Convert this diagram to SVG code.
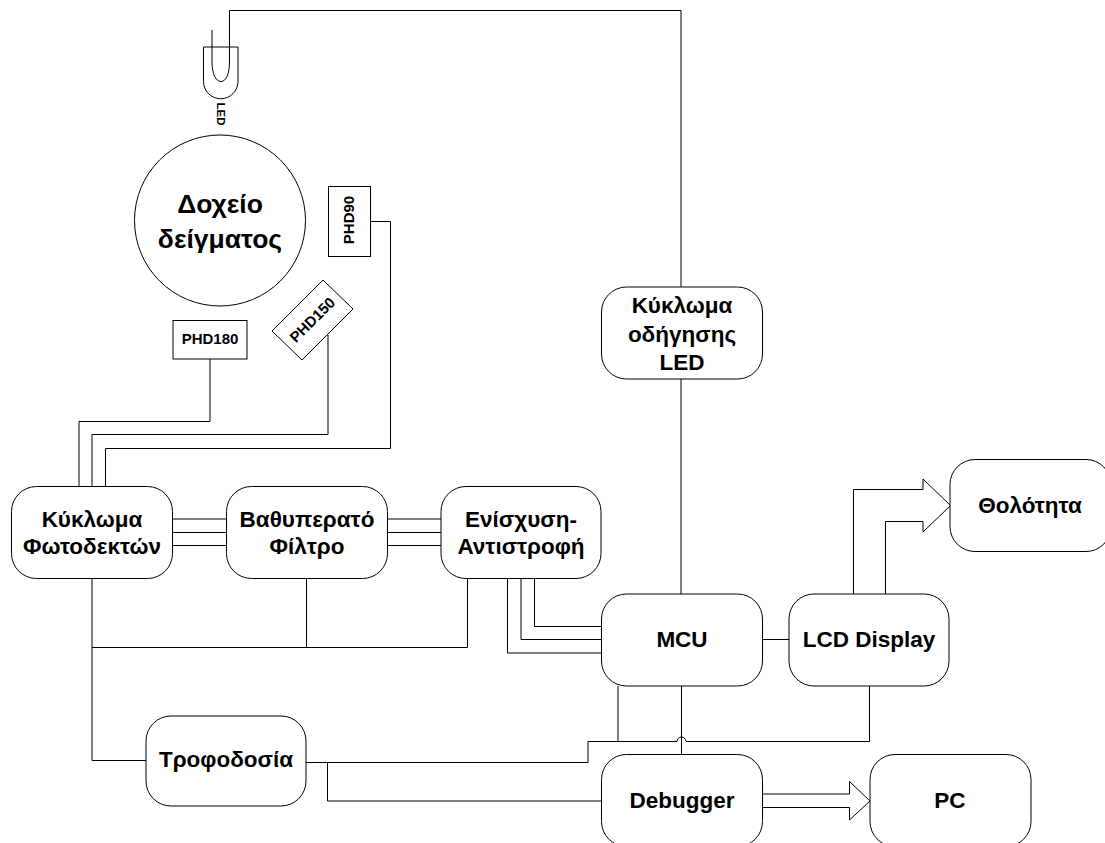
<svg xmlns="http://www.w3.org/2000/svg" width="1105" height="843" viewBox="0 0 1105 843">
<style>
.s{fill:#fff;stroke:#000;stroke-width:1}
.w{fill:none;stroke:#000;stroke-width:1}
text{font-family:"Liberation Sans",Arial,sans-serif;font-weight:700;fill:#000;text-anchor:middle}
.n{font-size:22.500px}
.b{font-size:26.500px}
.p{font-size:15px}
.l{font-size:11.500px}
</style>
<rect width="1105" height="843" fill="#fff"/>
<g id="connectors">
<path class="w" d="M229.500 47V10.500H681V287"/>
<path class="w" d="M681 379V594"/>
<path class="w" d="M371 221.500H390.500V448.500H105.500V486"/>
<path class="w" d="M210 359V421.500H79V486"/>
<path class="w" d="M328 335V434.500H92V486"/>
<path class="w" d="M172 519H226M172 532.500H226M172 545.500H226M387 519H441M387 532.500H441M387 545.500H441"/>
<path class="w" d="M92 578V760.500H146M92 647.500H467.500V578M306.500 578V647.500"/>
<path class="w" d="M534.500 578V626.500H601M521 578V639.500H601M507.500 578V653H601"/>
<path class="w" d="M762 639.500H789"/>
<path class="w" d="M618 686V741.500M681.500 686V754"/>
<path class="w" d="M306 762.500H588V741.500H677A4.500 4.500 0 0 1 686 741.500H869.500V686"/>
<path class="w" d="M327.500 762.500V801H601"/>
<path class="w" d="M762 794H849.500V781.500L870 801L849.500 820V807.500H762"/>
<path class="w" d="M853.500 594V489.500H923V479L950.500 505.500L923 532V521.500H885.500V594"/>
</g>
<g id="led">
<path class="w" d="M203.500 47H238V81.500A17.250 17.250 0 0 1 203.500 81.500Z"/>
<path class="w" d="M212 30V62C212 74 216 81.500 221 81.500C226 81.500 229.500 74 229.500 62V47"/>
<text class="l" transform="translate(216.800 114) rotate(90)">LED</text>
</g>
<g id="sample"><circle class="s" cx="220" cy="220.500" r="85.500"/><text class="b" x="220" y="213">Δοχείο</text><text class="b" x="220" y="248">δείγματος</text></g>
<g id="phd90"><rect class="s" x="328.500" y="186.500" width="42" height="70"/><text class="p" transform="translate(354 220) rotate(-90)">PHD90</text></g>
<g id="phd180"><rect class="s" x="173" y="320.500" width="74" height="38.500"/><text class="p" x="210" y="344">PHD180</text></g>
<g id="phd150"><path class="s" d="M323 280L353 309L302 360L272 331Z"/><text class="p" transform="translate(312.500 320) rotate(-45)" y="5">PHD150</text></g>
<g id="detectors"><rect class="s" x="11.500" y="486.500" width="161" height="92" rx="25"/><text class="n" x="92" y="527">Κύκλωμα</text><text class="n" x="92" y="554">Φωτοδεκτών</text></g>
<g id="filter"><rect class="s" x="226.500" y="486.500" width="161" height="92" rx="25"/><text class="n" x="307" y="527">Βαθυπερατό</text><text class="n" x="307" y="554">Φίλτρο</text></g>
<g id="amp"><rect class="s" x="441" y="486.500" width="160" height="92" rx="25"/><text class="n" x="521" y="527">Ενίσχυση-</text><text class="n" x="521" y="554">Αντιστροφή</text></g>
<g id="driver"><rect class="s" x="601.500" y="287" width="161" height="92" rx="25"/><text class="n" x="682" y="313">Κύκλωμα</text><text class="n" x="682" y="342">οδήγησης</text><text class="n" x="682" y="370">LED</text></g>
<g id="mcu"><rect class="s" x="601.500" y="594" width="161" height="92" rx="25"/><text class="n" x="682" y="647">MCU</text></g>
<g id="lcd"><rect class="s" x="789" y="594" width="160" height="92" rx="25"/><text class="n" x="869" y="647">LCD Display</text></g>
<g id="turbidity"><rect class="s" x="950" y="459.500" width="161" height="92" rx="25"/><text class="n" x="1030" y="513">Θολότητα</text></g>
<g id="power"><rect class="s" x="146" y="716" width="160" height="90" rx="25"/><text class="n" x="226" y="767">Τροφοδοσία</text></g>
<g id="debugger"><rect class="s" x="601.500" y="754.500" width="161" height="92" rx="25"/><text class="n" x="682" y="808">Debugger</text></g>
<g id="pc"><rect class="s" x="870" y="754.500" width="161" height="92" rx="25"/><text class="n" x="950" y="808">PC</text></g>
</svg>
